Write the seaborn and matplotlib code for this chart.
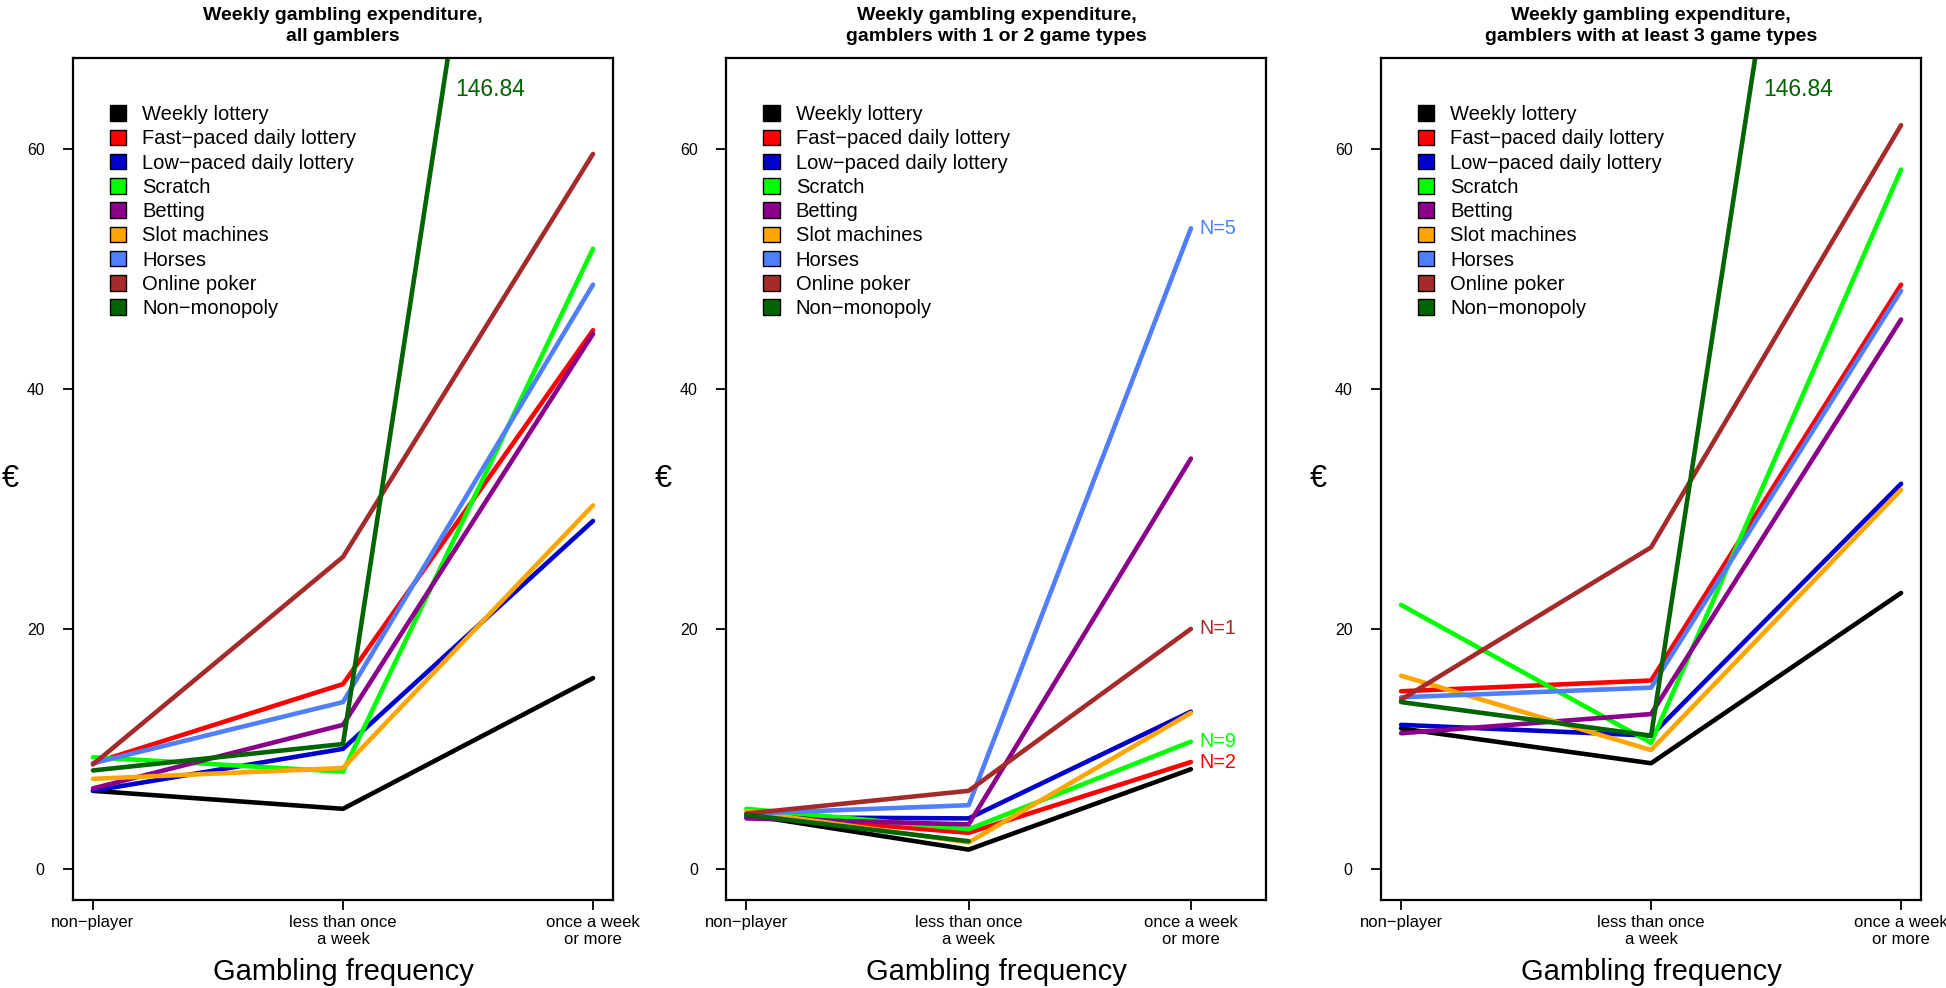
import numpy as np
import pandas as pd
import matplotlib
matplotlib.use("Agg")
import matplotlib.pyplot as plt
from matplotlib.patches import Patch
import seaborn as sns

# Game types and their colours
series = ["Weekly lottery", "Fast\u2212paced daily lottery", "Low\u2212paced daily lottery",
          "Scratch", "Betting", "Slot machines", "Horses", "Online poker", "Non\u2212monopoly"]
colors = ["#000000", "#FF0000", "#0000CD", "#00FF00", "#8B008B",
          "#FFA500", "#4F7FFF", "#A52A2A", "#006400"]

freq_labels = ["non\u2212player", "less than once\na week", "once a week\nor more"]

titles = ["Weekly gambling expenditure,\nall gamblers",
          "Weekly gambling expenditure,\ngamblers with 1 or 2 game types",
          "Weekly gambling expenditure,\ngamblers with at least 3 game types"]

# Mean weekly expenditure (EUR) by frequency: non-player, < once a week, >= once a week
all_gamblers = [
    [6.5, 5.0, 15.9],
    [8.8, 15.4, 44.9],
    [6.5, 10.0, 29.0],
    [9.3, 8.1, 51.7],
    [6.7, 12.0, 44.6],
    [7.5, 8.4, 30.3],
    [8.8, 13.9, 48.7],
    [8.7, 26.0, 59.6],
    [8.2, 10.4, 146.84],
]
one_or_two = [
    [4.5, 1.6, 8.3],
    [4.5, 3.0, 8.9],
    [4.3, 4.2, 13.1],
    [5.0, 3.3, 10.6],
    [4.2, 3.7, 34.2],
    [4.8, 2.2, 13.0],
    [4.6, 5.3, 53.4],
    [4.6, 6.5, 20.0],
    [4.5, 2.3, np.nan],
]
three_plus = [
    [11.7, 8.8, 23.0],
    [14.8, 15.7, 48.7],
    [12.0, 11.1, 32.1],
    [22.0, 10.5, 58.3],
    [11.3, 12.9, 45.8],
    [16.1, 9.9, 31.6],
    [14.3, 15.1, 48.2],
    [14.1, 26.8, 62.0],
    [13.9, 11.1, 146.84],
]
panels = [all_gamblers, one_or_two, three_plus]

# sample sizes shown next to some lines in the middle panel
n_labels = {"Fast\u2212paced daily lottery": "N=2", "Scratch": "N=9",
            "Horses": "N=5", "Online poker": "N=1"}

sns.set_style("ticks")
plt.rcParams["font.family"] = ["Liberation Sans", "DejaVu Sans"]
plt.rcParams.update({"text.color": "black", "axes.labelcolor": "black",
                     "xtick.color": "black", "ytick.color": "black"})

palette = dict(zip(series, colors))
fig = plt.figure(figsize=(19.46, 9.88), dpi=100)
lefts = [0.0375, 0.3733, 0.7097]
xlims = [(0.92, 3.08), (0.91, 3.34), (0.92, 3.08)]
ylim = (-2.6, 67.6)

for i, values in enumerate(panels):
    ax = fig.add_axes([lefts[i], 0.0891, 0.2775, 0.8522])
    df = pd.DataFrame({
        "freq": np.tile([1, 2, 3], len(series)),
        "value": np.ravel(values),
        "series": np.repeat(series, 3),
    }).dropna()
    sns.lineplot(data=df, x="freq", y="value", hue="series", hue_order=series,
                 palette=palette, legend=False, sort=False, estimator=None,
                 lw=3.3, solid_capstyle="round", solid_joinstyle="round", ax=ax)

    ax.set_xlim(*xlims[i])
    ax.set_ylim(*ylim)
    ax.set_xticks([1, 2, 3])
    ax.set_xticklabels(freq_labels)
    for lab in ax.get_xticklabels():
        lab.set_linespacing(1.2)
    ax.set_yticks([0, 20, 40, 60])
    ax.tick_params(axis="both", direction="out", length=7.5, width=1.3,
                   labelsize=11.5, color="black", labelcolor="black")
    ax.tick_params(axis="x", labelsize=12, pad=3)
    ax.tick_params(axis="y", pad=13)
    for sp in ax.spines.values():
        sp.set_visible(True)
        sp.set_linewidth(1.6)
        sp.set_color("black")

    ax.set_xlabel("Gambling frequency", fontsize=21, labelpad=8)
    ax.set_ylabel("\u20ac", fontsize=22, rotation=0, ha="center", va="center")
    ax.yaxis.set_label_coords(-0.117, 0.5)
    ax.set_title(titles[i], fontsize=14, fontweight="bold", pad=12, linespacing=1.3)

    # off-scale value for non-monopoly
    top = values[-1][2]
    if top > ylim[1]:
        ax.text(2.45, 65.0, f"{top:.2f}", color=colors[-1], fontsize=16.5,
                ha="left", va="center")

    if i == 1:
        for name, lab in n_labels.items():
            k = series.index(name)
            ax.text(3.04, values[k][2], lab, color=colors[k], fontsize=14.2,
                    ha="left", va="center")

    handles = [Patch(facecolor=c, edgecolor="black", lw=1.0) for c in colors]
    ax.legend(handles, series, loc="upper left", bbox_to_anchor=(0.0685, 0.944),
              frameon=False, fontsize=14.5, handlelength=0.8, handleheight=0.8,
              handletextpad=0.8, labelspacing=0.26, borderpad=0, borderaxespad=0)

fig.savefig("out.png", dpi=100, facecolor="white")
